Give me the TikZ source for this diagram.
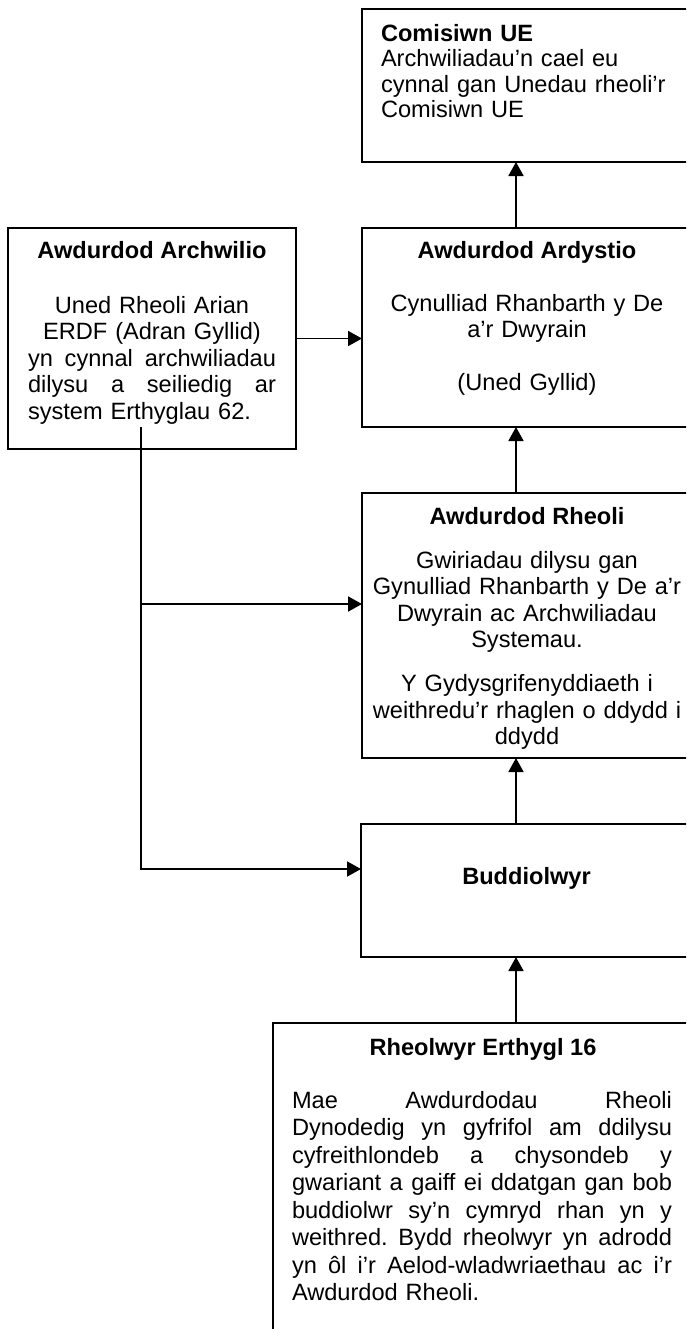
\documentclass[tikz,border=0pt]{standalone}
\usepackage{fontspec}
\setmainfont{Liberation Sans}
\usetikzlibrary{arrows.meta}
\newcommand{\bodyfont}{\fontsize{11.8}{13.3}\selectfont}
\newcommand{\jline}[2]{\makebox[#1][l]{#2}}
\begin{document}
\begin{tikzpicture}[x=0.5pt,y=-0.5pt,
  box/.style={draw, line width=0.9pt, inner sep=0pt, outer sep=0pt},
  txt/.style={inner sep=0pt, outer sep=0pt, font=\bodyfont, anchor=base, align=center},
  ttl/.style={txt, font=\bodyfont\bfseries},
  conn/.style={line width=0.9pt},
  arr/.style={conn, -{Triangle[length=7pt,width=7.5pt]}}]
\useasboundingbox (0,0) rectangle (686,1329);
\clip (0,0) rectangle (686,1329);
\fill[white] (0,0) rectangle (686,1329);

% boxes
\node[box, minimum width=165pt, minimum height=76.5pt] (comisiwn) at (527,85.5) {};
\node[box, minimum width=165pt, minimum height=99.5pt] (ardystio) at (527,327.5) {};
\node[box, minimum width=144pt, minimum height=110.5pt] (archwilio) at (152,338.5) {};
\node[box, minimum width=165pt, minimum height=132.5pt] (rheoli) at (527,625.5) {};
\node[box, minimum width=165.5pt, minimum height=66.5pt] (buddiolwyr) at (526.5,890.5) {};
\node[box, minimum width=209.5pt, minimum height=161pt] (rheolwyr) at (482.5,1184) {};

% texts
\node[txt, font=\fontsize{11.8}{12.8}\selectfont, anchor=base west, text width=150pt, align=left] (comisiwnT) at (381,41)
  {\textbf{Comisiwn UE}\\Archwiliadau’n cael eu\\cynnal gan Unedau rheoli’r\\Comisiwn UE};

\node[ttl] (ardystioT) at (527,258) {Awdurdod Ardystio};
\node[txt, text width=160pt] (ardystioB) at (527,311)
  {Cynulliad Rhanbarth y De\\a’r Dwyrain\\[13.3pt](Uned Gyllid)};

\node[ttl] (archwilioT) at (152,258) {Awdurdod Archwilio};
\node[txt, text width=124pt] (archwilioB) at (152,313)
  {Uned Rheoli Arian\\ERDF (Adran Gyllid)\\
   \jline{124pt}{yn\hfill cynnal\hfill archwiliadau}\\
   \jline{124pt}{dilysu\hfill a\hfill seiliedig\hfill ar}\\
   \jline{124pt}{system Erthyglau 62.}};

\node[ttl] (rheoliT) at (527,524) {Awdurdod Rheoli};
\node[txt, text width=160pt] (rheoliB) at (527,568)
  {Gwiriadau dilysu gan\\Gynulliad Rhanbarth y De a’r\\Dwyrain ac Archwiliadau\\Systemau.\\[8.5pt]Y Gydysgrifenyddiaeth i\\weithredu’r rhaglen o ddydd i\\ddydd};

\node[ttl] (buddiolwyrT) at (526.5,884) {Buddiolwyr};

\node[ttl] (rheolwyrT) at (483,1055) {Rheolwyr Erthygl 16};
\node[txt, font=\fontsize{11.8}{13.75}\selectfont, text width=190pt, align=left] (rheolwyrB) at (482,1108)
  {\jline{190pt}{Mae\hfill Awdurdodau\hfill Rheoli}\\
   \jline{190pt}{Dynodedig\hfill yn\hfill gyfrifol\hfill am\hfill ddilysu}\\
   \jline{190pt}{cyfreithlondeb\hfill a\hfill chysondeb\hfill y}\\
   \jline{190pt}{gwariant\hfill a\hfill gaiff\hfill ei\hfill ddatgan\hfill gan\hfill bob}\\
   \jline{190pt}{buddiolwr\hfill sy’n\hfill cymryd\hfill rhan\hfill yn\hfill y}\\
   \jline{190pt}{weithred.\hfill Bydd\hfill rheolwyr\hfill yn\hfill adrodd}\\
   \jline{190pt}{yn\hfill ôl\hfill i’r\hfill Aelod-wladwriaethau\hfill ac\hfill i’r}\\
   Awdurdod Rheoli.};

% connectors
\coordinate (spine) at (516,0);
\coordinate (tap) at (141,427);
\coordinate (b1) at (141,604);
\coordinate (b2) at (141,869);
\draw[arr] (ardystio.north -| spine) -- (comisiwn.south -| spine);
\draw[arr] (archwilio.east) -- (archwilio.east -| ardystio.west);
\draw[arr] (rheoli.north -| spine) -- (ardystio.south -| spine);
\draw[arr] (buddiolwyr.north -| spine) -- (rheoli.south -| spine);
\draw[arr] (rheolwyr.north -| spine) -- (buddiolwyr.south -| spine);
\draw[arr] (tap) -- (b2) -- (b2 -| buddiolwyr.west);
\draw[arr] (b1) -- (b1 -| rheoli.west);
\end{tikzpicture}
\end{document}
